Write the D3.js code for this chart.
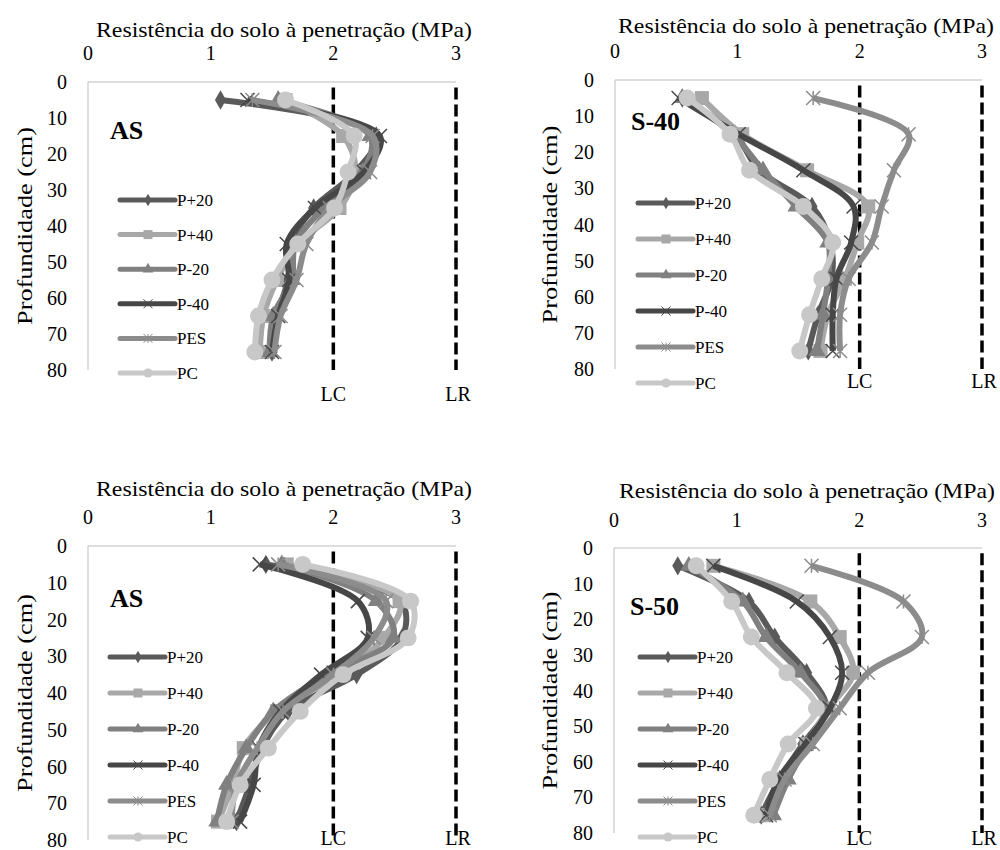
<!DOCTYPE html>
<html>
<head>
<meta charset="utf-8">
<script src="https://cdn.jsdelivr.net/npm/d3@7"></script>
<style>
  body { margin: 0; background: #fff; }
</style>
</head>
<body>
<div id="chart"></div>
<script>
// depths (cm) where the penetrometer was read
const depths = [5, 15, 25, 35, 45, 55, 65, 75];
const seriesNames = ["P+20", "P+40", "P-20", "P-40", "PES", "PC"];
const xTicks = [0, 1, 2, 3];
const yTicks = [0, 10, 20, 30, 40, 50, 60, 70, 80];
const limitValues = [2, 3];
const limitLabels = ["LC", "LR"];
const axisTitle = "Resistência do solo à penetração (MPa)";
const depthTitle = "Profundidade (cm)";

// MPa per series, one row per series (same order as seriesNames)
const asTopValues = [
    [1.08, 2.35, 2.18, 1.84, 1.65, 1.63, 1.54, 1.50],
    [1.61, 2.08, 2.18, 2.05, 1.71, 1.54, 1.43, 1.40],
    [1.55, 2.30, 2.24, 1.92, 1.69, 1.66, 1.51, 1.48],
    [1.30, 2.38, 2.25, 1.85, 1.62, 1.64, 1.55, 1.50],
    [1.34, 2.32, 2.30, 1.97, 1.78, 1.70, 1.57, 1.52],
    [1.61, 2.17, 2.12, 2.01, 1.71, 1.50, 1.39, 1.36]
];
const s40Values = [
    [0.55, 0.98, 1.18, 1.61, 1.76, 1.77, 1.66, 1.58],
    [0.71, 1.04, 1.57, 2.07, 1.98, 1.88, 1.74, 1.68],
    [0.55, 0.96, 1.21, 1.48, 1.74, 1.74, 1.70, 1.65],
    [0.52, 1.01, 1.54, 1.95, 1.93, 1.81, 1.78, 1.78],
    [1.62, 2.40, 2.28, 2.18, 2.10, 1.91, 1.84, 1.84],
    [0.59, 0.94, 1.10, 1.54, 1.78, 1.69, 1.59, 1.51]
];
const asBottomValues = [
    [1.45, 2.55, 2.56, 2.19, 1.63, 1.42, 1.32, 1.21],
    [1.62, 2.54, 2.41, 2.05, 1.54, 1.27, 1.18, 1.06],
    [1.58, 2.35, 2.49, 1.95, 1.51, 1.29, 1.13, 1.05],
    [1.40, 2.20, 2.28, 1.90, 1.57, 1.39, 1.35, 1.24],
    [1.55, 2.43, 2.33, 2.00, 1.59, 1.38, 1.21, 1.17],
    [1.75, 2.63, 2.61, 2.08, 1.73, 1.47, 1.24, 1.13]
];
const s50Values = [
    [0.52, 1.10, 1.31, 1.57, 1.73, 1.54, 1.35, 1.20],
    [0.81, 1.60, 1.84, 1.95, 1.75, 1.57, 1.37, 1.23],
    [0.61, 1.05, 1.24, 1.52, 1.72, 1.58, 1.42, 1.30],
    [0.81, 1.49, 1.76, 1.86, 1.76, 1.56, 1.34, 1.24],
    [1.61, 2.36, 2.51, 2.07, 1.84, 1.62, 1.39, 1.27],
    [0.67, 0.96, 1.12, 1.41, 1.65, 1.42, 1.27, 1.14]
];

const seriesColors = ["#5a5a5a", "#a8a8a8", "#808080", "#474747", "#8c8c8c", "#c8c8c8"];
const seriesMarkers = ["diamond", "square", "triangle", "cross", "star", "circle"];

// pick the first serif face that is really installed
function pickFont(){
    const candidates = ["Liberation Serif", "Times New Roman", "Tinos", "DejaVu Serif", "Noto Serif", "FreeSerif", "Nimbus Roman", "Nimbus Roman No9 L"];
    const ctx = document.createElement("canvas").getContext("2d");
    const probe = "Resistência mmmWWWiiilll 0123";
    const widthOf = (f) => { ctx.font = "40px " + f; return ctx.measureText(probe).width; };
    const baseMono = widthOf("monospace");
    const baseSans = widthOf("sans-serif");
    for(const c of candidates){
        if(widthOf("'" + c + "', monospace") !== baseMono || widthOf("'" + c + "', sans-serif") !== baseSans){
            return "'" + c + "', serif";
        }
    }
    return "serif";
}
const fontFamily = pickFont();

// panel placement in the 1000x850 picture
const panels = [
    {label: "AS",   values: asTopValues,    x0: 88,  x3: 456, top: 82,  bottom: 370, titleY: 37,  titleX: 284, tickY: 60,  legendX: 120, legendY: 200, legendStep: 34.6, labelY: 130, limitY: 401, ylabX: 24},
    {label: "S-40", values: s40Values,      x0: 615, x3: 982, top: 80,  bottom: 369, titleY: 33,  titleX: 806, tickY: 58,  legendX: 638, legendY: 203, legendStep: 36,   labelY: 121, limitY: 388, ylabX: 549},
    {label: "AS",   values: asBottomValues, x0: 88,  x3: 456, top: 546, bottom: 840, titleY: 496, titleX: 284, tickY: 524, legendX: 110, legendY: 657, legendStep: 36,   labelY: 598, limitY: 845, ylabX: 24},
    {label: "S-50", values: s50Values,      x0: 614, x3: 982, top: 548, bottom: 833, titleY: 498, titleX: 807, tickY: 527, legendX: 640, legendY: 657, legendStep: 36,   labelY: 606, limitY: 845, ylabX: 549}
];

const svg = d3.select("#chart").append("svg")
    .attr("width", 1000)
    .attr("height", 850)
    .attr("font-family", fontFamily);

svg.append("rect").attr("width", 1000).attr("height", 850).attr("fill", "#fff");

function markerPath(kind, s){
    if(kind === "cross"){
        return "M" + (-s) + "," + (-s) + "L" + s + "," + s + "M" + (-s) + "," + s + "L" + s + "," + (-s);
    }
    if(kind === "star"){
        return "M" + (-s) + "," + (-s) + "L" + s + "," + s + "M" + (-s) + "," + s + "L" + s + "," + (-s) + "M0," + (-s) + "L0," + s;
    }
    const types = {diamond: d3.symbolDiamond, square: d3.symbolSquare, triangle: d3.symbolTriangle, circle: d3.symbolCircle};
    const sizes = {diamond: 2.2 * s * s, square: 4 * s * s, triangle: 2.6 * s * s, circle: 3.14 * s * s};
    return d3.symbol().type(types[kind]).size(sizes[kind])();
}

function isStroked(kind){
    return kind === "cross" || kind === "star";
}

function drawPanel(p){
    const xScale = d3.scaleLinear().domain([0, 3]).range([p.x0, p.x3]);
    const yScale = d3.scaleLinear().domain([0, 80]).range([p.top, p.bottom]);
    const g = svg.append("g").attr("class", "panelG");

    // axis lines (top and left, light gray)
    g.append("line")
        .attr("x1", xScale(0)).attr("x2", xScale(3))
        .attr("y1", yScale(0)).attr("y2", yScale(0))
        .attr("stroke", "#bdbdbd").attr("stroke-width", 1);
    g.append("line")
        .attr("x1", xScale(0)).attr("x2", xScale(0))
        .attr("y1", yScale(0)).attr("y2", yScale(80))
        .attr("stroke", "#bdbdbd").attr("stroke-width", 1);

    // x ticks on top
    g.selectAll(".xTick").data(xTicks).join("text")
        .attr("class", "xTick")
        .attr("x", d => xScale(d))
        .attr("y", p.tickY)
        .attr("text-anchor", "middle")
        .attr("font-size", 20)
        .text(d => d);

    g.append("text")
        .attr("x", p.titleX)
        .attr("y", p.titleY)
        .attr("text-anchor", "middle")
        .attr("font-size", 22)
        .attr("textLength", 376)
        .attr("lengthAdjust", "spacingAndGlyphs")
        .text(axisTitle);

    // y ticks
    g.selectAll(".yTick").data(yTicks).join("text")
        .attr("class", "yTick")
        .attr("x", xScale(0) - 21)
        .attr("y", d => yScale(d))
        .attr("dy", "0.35em")
        .attr("text-anchor", "end")
        .attr("font-size", 20)
        .text(d => d);

    g.append("text")
        .attr("transform", "translate(" + p.ylabX + "," + ((yScale(0) + yScale(80)) / 2) + ") rotate(-90)")
        .attr("text-anchor", "middle")
        .attr("dy", "0.35em")
        .attr("font-size", 22)
        .attr("textLength", 198)
        .attr("lengthAdjust", "spacingAndGlyphs")
        .text(depthTitle);

    // limit lines LC / LR
    limitValues.forEach((v, i) => {
        g.append("line")
            .attr("x1", xScale(v)).attr("x2", xScale(v))
            .attr("y1", yScale(1.5)).attr("y2", yScale(80))
            .attr("stroke", "#000")
            .attr("stroke-width", 3.5)
            .attr("stroke-dasharray", "12,5");
        g.append("text")
            .attr("x", xScale(v) + (i === 1 ? 2 : 0))
            .attr("y", p.limitY)
            .attr("text-anchor", "middle")
            .attr("font-size", 20)
            .text(limitLabels[i]);
    });

    // series
    const line = d3.line()
        .x(d => xScale(d[0]))
        .y(d => yScale(d[1]))
        .curve(d3.curveCatmullRom.alpha(0.5));

    seriesNames.forEach((name, i) => {
        const pts = p.values[i].map((v, j) => [v, depths[j]]);
        const sg = g.append("g").attr("class", "seriesG");
        sg.append("path")
            .attr("d", line(pts))
            .attr("fill", "none")
            .attr("stroke", seriesColors[i])
            .attr("stroke-width", 6)
            .attr("stroke-linejoin", "round");
        const kind = seriesMarkers[i];
        sg.selectAll(".markerP").data(pts).join("path")
            .attr("class", "markerP")
            .attr("transform", d => "translate(" + xScale(d[0]) + "," + yScale(d[1]) + ")")
            .attr("d", markerPath(kind, kind === "circle" ? 8.5 : 7))
            .attr("fill", isStroked(kind) ? "none" : seriesColors[i])
            .attr("stroke", seriesColors[i])
            .attr("stroke-width", isStroked(kind) ? 1.5 : 0);
    });

    // panel label
    g.append("text")
        .attr("x", p.x0 + (p.label === "AS" ? 22 : 16))
        .attr("y", p.labelY)
        .attr("dy", "0.35em")
        .attr("font-size", 26)
        .attr("font-weight", "bold")
        .text(p.label);

    // legend
    seriesNames.forEach((name, i) => {
        const ly = p.legendY + i * p.legendStep;
        const lg = g.append("g").attr("class", "legendG");
        lg.append("line")
            .attr("x1", p.legendX).attr("x2", p.legendX + 55)
            .attr("y1", ly).attr("y2", ly)
            .attr("stroke", seriesColors[i])
            .attr("stroke-width", 5)
            .attr("stroke-linecap", "round");
        const kind = seriesMarkers[i];
        lg.append("path")
            .attr("transform", "translate(" + (p.legendX + 28) + "," + ly + ")")
            .attr("d", markerPath(kind, 4.5))
            .attr("fill", isStroked(kind) ? "none" : seriesColors[i])
            .attr("stroke", seriesColors[i])
            .attr("stroke-width", isStroked(kind) ? 1 : 0);
        lg.append("text")
            .attr("x", p.legendX + 57)
            .attr("y", ly)
            .attr("dy", "0.35em")
            .attr("font-size", 17)
            .text(name);
    });
}

panels.forEach(drawPanel);
</script>
</body>
</html>
